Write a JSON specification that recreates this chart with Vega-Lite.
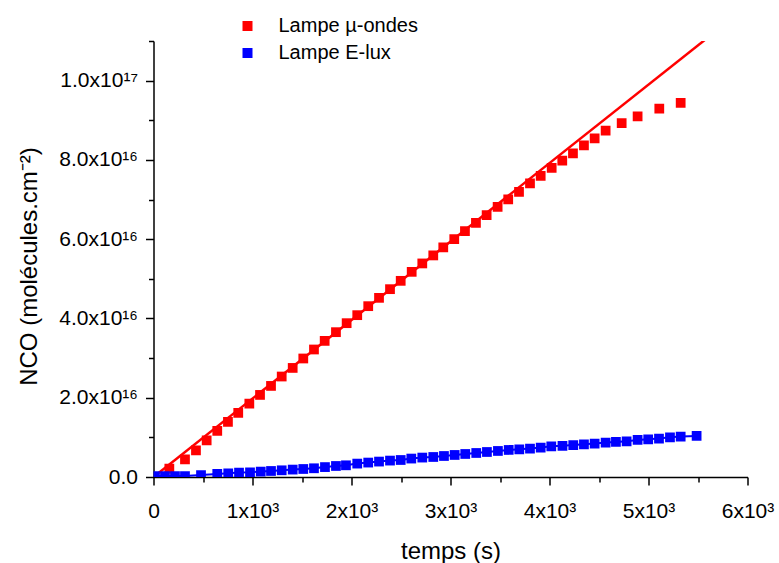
{
  "$schema": "https://vega.github.io/schema/vega-lite/v6.json",
  "width": 594,
  "height": 436,
  "autosize": "none",
  "padding": {"left": 153.5, "top": 41, "right": 31.5, "bottom": 86},
  "config": {"view": {"stroke": null}, "font": "Liberation Sans"},
  "datasets": {
    "fit": [
      {"t": 45, "N": 8.9e14},
      {"t": 5600, "N": 1.1088e17}
    ],
    "mesures": [
      {"t": 160, "N": 2.12e15, "lampe": "Lampe µ-ondes"},
      {"t": 318, "N": 4.47e15, "lampe": "Lampe µ-ondes"},
      {"t": 429, "N": 6.74e15, "lampe": "Lampe µ-ondes"},
      {"t": 537, "N": 9.27e15, "lampe": "Lampe µ-ondes"},
      {"t": 644, "N": 1.162e16, "lampe": "Lampe µ-ondes"},
      {"t": 752, "N": 1.389e16, "lampe": "Lampe µ-ondes"},
      {"t": 856, "N": 1.616e16, "lampe": "Lampe µ-ondes"},
      {"t": 968, "N": 1.853e16, "lampe": "Lampe µ-ondes"},
      {"t": 1076, "N": 2.071e16, "lampe": "Lampe µ-ondes"},
      {"t": 1187, "N": 2.298e16, "lampe": "Lampe µ-ondes"},
      {"t": 1295, "N": 2.535e16, "lampe": "Lampe µ-ondes"},
      {"t": 1406, "N": 2.752e16, "lampe": "Lampe µ-ondes"},
      {"t": 1513, "N": 2.99e16, "lampe": "Lampe µ-ondes"},
      {"t": 1621, "N": 3.217e16, "lampe": "Lampe µ-ondes"},
      {"t": 1729, "N": 3.434e16, "lampe": "Lampe µ-ondes"},
      {"t": 1843, "N": 3.654e16, "lampe": "Lampe µ-ondes"},
      {"t": 1951, "N": 3.881e16, "lampe": "Lampe µ-ondes"},
      {"t": 2058, "N": 4.083e16, "lampe": "Lampe µ-ondes"},
      {"t": 2169, "N": 4.31e16, "lampe": "Lampe µ-ondes"},
      {"t": 2278, "N": 4.52e16, "lampe": "Lampe µ-ondes"},
      {"t": 2389, "N": 4.739e16, "lampe": "Lampe µ-ondes"},
      {"t": 2497, "N": 4.949e16, "lampe": "Lampe µ-ondes"},
      {"t": 2608, "N": 5.176e16, "lampe": "Lampe µ-ondes"},
      {"t": 2715, "N": 5.388e16, "lampe": "Lampe µ-ondes"},
      {"t": 2826, "N": 5.59e16, "lampe": "Lampe µ-ondes"},
      {"t": 2927, "N": 5.792e16, "lampe": "Lampe µ-ondes"},
      {"t": 3038, "N": 6.002e16, "lampe": "Lampe µ-ondes"},
      {"t": 3146, "N": 6.204e16, "lampe": "Lampe µ-ondes"},
      {"t": 3257, "N": 6.414e16, "lampe": "Lampe µ-ondes"},
      {"t": 3365, "N": 6.608e16, "lampe": "Lampe µ-ondes"},
      {"t": 3476, "N": 6.818e16, "lampe": "Lampe µ-ondes"},
      {"t": 3583, "N": 7.004e16, "lampe": "Lampe µ-ondes"},
      {"t": 3692, "N": 7.196e16, "lampe": "Lampe µ-ondes"},
      {"t": 3803, "N": 7.408e16, "lampe": "Lampe µ-ondes"},
      {"t": 3911, "N": 7.6e16, "lampe": "Lampe µ-ondes"},
      {"t": 4022, "N": 7.802e16, "lampe": "Lampe µ-ondes"},
      {"t": 4129, "N": 7.979e16, "lampe": "Lampe µ-ondes"},
      {"t": 4237, "N": 8.166e16, "lampe": "Lampe µ-ondes"},
      {"t": 4348, "N": 8.368e16, "lampe": "Lampe µ-ondes"},
      {"t": 4456, "N": 8.545e16, "lampe": "Lampe µ-ondes"},
      {"t": 4567, "N": 8.737e16, "lampe": "Lampe µ-ondes"},
      {"t": 4729, "N": 8.931e16, "lampe": "Lampe µ-ondes"},
      {"t": 4890, "N": 9.1e16, "lampe": "Lampe µ-ondes"},
      {"t": 5109, "N": 9.292e16, "lampe": "Lampe µ-ondes"},
      {"t": 5325, "N": 9.436e16, "lampe": "Lampe µ-ondes"},
      {"t": 15, "N": 2.5e14, "lampe": "Lampe E-lux"},
      {"t": 116, "N": 2.5e14, "lampe": "Lampe E-lux"},
      {"t": 217, "N": 2.5e14, "lampe": "Lampe E-lux"},
      {"t": 318, "N": 2.5e14, "lampe": "Lampe E-lux"},
      {"t": 480, "N": 5.0e14, "lampe": "Lampe E-lux"},
      {"t": 644, "N": 7.6e14, "lampe": "Lampe E-lux"},
      {"t": 755, "N": 9.3e14, "lampe": "Lampe E-lux"},
      {"t": 864, "N": 1.11e15, "lampe": "Lampe E-lux"},
      {"t": 975, "N": 1.19e15, "lampe": "Lampe E-lux"},
      {"t": 1083, "N": 1.36e15, "lampe": "Lampe E-lux"},
      {"t": 1187, "N": 1.52e15, "lampe": "Lampe E-lux"},
      {"t": 1295, "N": 1.69e15, "lampe": "Lampe E-lux"},
      {"t": 1406, "N": 1.87e15, "lampe": "Lampe E-lux"},
      {"t": 1513, "N": 2.02e15, "lampe": "Lampe E-lux"},
      {"t": 1621, "N": 2.2e15, "lampe": "Lampe E-lux"},
      {"t": 1732, "N": 2.5e15, "lampe": "Lampe E-lux"},
      {"t": 1843, "N": 2.78e15, "lampe": "Lampe E-lux"},
      {"t": 1944, "N": 2.95e15, "lampe": "Lampe E-lux"},
      {"t": 2058, "N": 3.38e15, "lampe": "Lampe E-lux"},
      {"t": 2169, "N": 3.64e15, "lampe": "Lampe E-lux"},
      {"t": 2278, "N": 3.89e15, "lampe": "Lampe E-lux"},
      {"t": 2389, "N": 4.14e15, "lampe": "Lampe E-lux"},
      {"t": 2497, "N": 4.29e15, "lampe": "Lampe E-lux"},
      {"t": 2604, "N": 4.65e15, "lampe": "Lampe E-lux"},
      {"t": 2715, "N": 4.9e15, "lampe": "Lampe E-lux"},
      {"t": 2826, "N": 5.05e15, "lampe": "Lampe E-lux"},
      {"t": 2934, "N": 5.3e15, "lampe": "Lampe E-lux"},
      {"t": 3042, "N": 5.56e15, "lampe": "Lampe E-lux"},
      {"t": 3149, "N": 5.81e15, "lampe": "Lampe E-lux"},
      {"t": 3260, "N": 6.06e15, "lampe": "Lampe E-lux"},
      {"t": 3368, "N": 6.31e15, "lampe": "Lampe E-lux"},
      {"t": 3479, "N": 6.57e15, "lampe": "Lampe E-lux"},
      {"t": 3588, "N": 6.82e15, "lampe": "Lampe E-lux"},
      {"t": 3695, "N": 6.99e15, "lampe": "Lampe E-lux"},
      {"t": 3803, "N": 7.17e15, "lampe": "Lampe E-lux"},
      {"t": 3911, "N": 7.42e15, "lampe": "Lampe E-lux"},
      {"t": 4018, "N": 7.75e15, "lampe": "Lampe E-lux"},
      {"t": 4131, "N": 7.88e15, "lampe": "Lampe E-lux"},
      {"t": 4240, "N": 8.05e15, "lampe": "Lampe E-lux"},
      {"t": 4348, "N": 8.26e15, "lampe": "Lampe E-lux"},
      {"t": 4456, "N": 8.43e15, "lampe": "Lampe E-lux"},
      {"t": 4567, "N": 8.69e15, "lampe": "Lampe E-lux"},
      {"t": 4671, "N": 8.84e15, "lampe": "Lampe E-lux"},
      {"t": 4779, "N": 9.01e15, "lampe": "Lampe E-lux"},
      {"t": 4890, "N": 9.34e15, "lampe": "Lampe E-lux"},
      {"t": 4997, "N": 9.52e15, "lampe": "Lampe E-lux"},
      {"t": 5106, "N": 9.7e15, "lampe": "Lampe E-lux"},
      {"t": 5217, "N": 1.002e16, "lampe": "Lampe E-lux"},
      {"t": 5325, "N": 1.02e16, "lampe": "Lampe E-lux"},
      {"t": 5486, "N": 1.035e16, "lampe": "Lampe E-lux"}
    ]
  },
  "encoding": {
    "x": {
      "field": "t",
      "type": "quantitative",
      "scale": {"domain": [0, 6000], "nice": false, "zero": false},
      "axis": {
        "title": "temps (s)",
        "values": [0, 500, 1000, 1500, 2000, 2500, 3000, 3500, 4000, 4500, 5000, 5500, 6000],
        "labelExpr": "datum.value === 0 ? '0' : (datum.value % 1000 !== 0 ? '' : format(datum.value / 1000, 'd') + 'x10³')",
        "labelFont": "Liberation Sans",
        "labelFontSize": 21,
        "labelColor": "#000000",
        "labelPadding": 15,
        "labelOverlap": false,
        "labelFlush": false,
        "labelBound": false,
        "tickSize": {"condition": {"test": "datum.value % 1000 === 0", "value": 8}, "value": 5},
        "tickColor": "#000000",
        "tickWidth": 1.5,
        "domainColor": "#000000",
        "domainWidth": 1.5,
        "grid": false,
        "titleFont": "Liberation Sans",
        "titleFontSize": 24,
        "titleFontWeight": "normal",
        "titleColor": "#000000",
        "titleBaseline": "alphabetic",
        "titleY": 81
      }
    },
    "y": {
      "field": "N",
      "type": "quantitative",
      "scale": {"domain": [0, 1.1e17], "nice": false, "zero": false},
      "axis": {
        "title": "NCO (molécules.cm⁻²)",
        "values": [0, 1e16, 2e16, 3e16, 4e16, 5e16, 6e16, 7e16, 8e16, 9e16, 1e17, 1.1e17],
        "labelExpr": "datum.value === 0 ? '0.0' : ((round(datum.value / 1e16) % 2 !== 0) ? '' : (datum.value >= 9.5e16 ? format(datum.value / 1e17, '.1f') + 'x10¹⁷' : format(datum.value / 1e16, '.1f') + 'x10¹⁶'))",
        "labelFont": "Liberation Sans",
        "labelFontSize": 21,
        "labelColor": "#000000",
        "labelPadding": 8,
        "labelOverlap": false,
        "labelBound": false,
        "tickSize": {"condition": {"test": "round(datum.value / 1e16) % 2 === 0", "value": 8}, "value": 5},
        "tickColor": "#000000",
        "tickWidth": 1.5,
        "domainColor": "#000000",
        "domainWidth": 1.5,
        "grid": false,
        "titleFont": "Liberation Sans",
        "titleFontSize": 24,
        "titleFontWeight": "normal",
        "titleColor": "#000000",
        "titleBaseline": "alphabetic",
        "titleAngle": -90,
        "titleX": -117,
        "titleY": 225
      }
    }
  },
  "layer": [
    {
      "data": {"name": "fit"},
      "mark": {"type": "line", "color": "#ff0000", "strokeWidth": 2.5, "clip": true}
    },
    {
      "data": {"name": "mesures"},
      "transform": [{"filter": "datum.lampe === 'Lampe E-lux'"}],
      "mark": {"type": "line", "color": "#0000ff", "strokeWidth": 2, "clip": true}
    },
    {
      "data": {"name": "mesures"},
      "mark": {"type": "point", "shape": "square", "filled": true, "opacity": 1, "size": 95, "clip": true},
      "encoding": {
        "color": {
          "field": "lampe",
          "type": "nominal",
          "scale": {"domain": ["Lampe µ-ondes", "Lampe E-lux"], "range": ["#ff0000", "#0000ff"]},
          "legend": {
            "title": null,
            "orient": "none",
            "legendX": 84,
            "legendY": -25,
            "padding": 0,
            "symbolType": "square",
            "symbolSize": 100,
            "symbolStrokeWidth": 0,
            "symbolOpacity": 1,
            "labelFont": "Liberation Sans",
            "labelFontSize": 20,
            "labelColor": "#000000",
            "labelOffset": 21,
            "rowPadding": 7,
            "labelLimit": 300
          }
        }
      }
    }
  ]
}
